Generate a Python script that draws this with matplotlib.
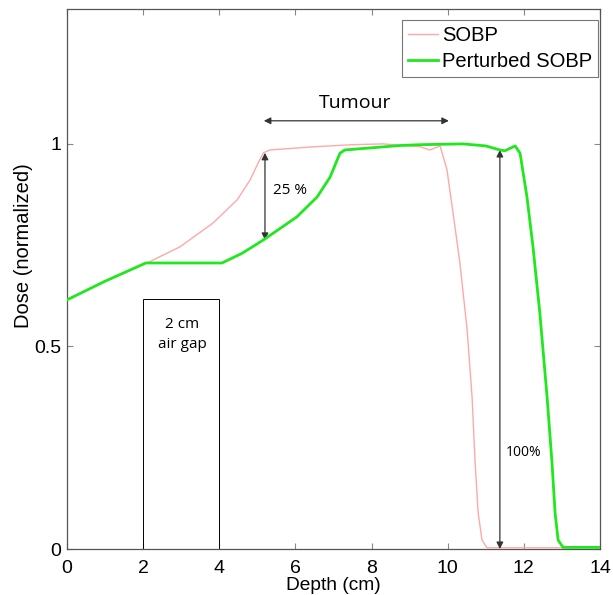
import matplotlib
matplotlib.use("Agg")
import matplotlib.pyplot as plt
from matplotlib.patches import Rectangle

plt.rcParams['font.family'] = ['Liberation Sans', 'DejaVu Sans']

# depth-dose curves
sobp_x = [0, 1.0, 2.1, 2.97, 3.84, 4.47, 4.81, 5.02, 5.16, 5.33, 6.5, 7.5,
          8.3, 9.27, 9.53, 9.8, 9.98, 10.14, 10.32, 10.51, 10.64, 10.72,
          10.8, 10.9, 11.03, 14]
sobp_y = [0.615, 0.661, 0.706, 0.746, 0.805, 0.862, 0.911, 0.953, 0.978,
          0.985, 0.993, 0.998, 1.0, 0.993, 0.985, 0.995, 0.936, 0.83, 0.706,
          0.541, 0.375, 0.212, 0.089, 0.022, 0.003, 0.003]

pert_x = [0, 1.0, 2.07, 4.07, 4.6, 5.16, 6.04, 6.57, 6.91, 7.17, 7.3, 8.75,
          9.27, 10.4, 11.0, 11.37, 11.5, 11.77, 11.9, 12.08, 12.24, 12.42,
          12.61, 12.74, 12.82, 12.9, 13.03, 14]
pert_y = [0.615, 0.661, 0.706, 0.706, 0.73, 0.763, 0.82, 0.869, 0.918, 0.977,
          0.985, 0.996, 0.998, 1.0, 0.995, 0.985, 0.983, 0.995, 0.977, 0.87,
          0.746, 0.582, 0.375, 0.212, 0.089, 0.022, 0.004, 0.004]

fig = plt.figure(figsize=(6.13, 5.95), dpi=100)
ax = fig.add_axes([0.1093, 0.0773, 0.8695, 0.9076])

ax.plot(sobp_x, sobp_y, color='#ffa8a8', lw=1.0, label='SOBP', zorder=3)
ax.plot(pert_x, pert_y, color='#1fe81f', lw=2.0, label='Perturbed SOBP', zorder=4)

# air gap box
ax.add_patch(Rectangle((2, 0), 2, 0.617, fill=False, ec='black', lw=0.7, zorder=2))
ax.text(3.02, 0.53, '2 cm\nair gap', ha='center', va='center', fontsize=11,
        family=['Open Sans', 'DejaVu Sans'], linespacing=1.5)

# annotations
arr = dict(arrowstyle='<|-|>', color='#333333', lw=0.9, mutation_scale=10,
           shrinkA=0, shrinkB=0)
ax.annotate('', xy=(5.17, 1.057), xytext=(10.03, 1.057), arrowprops=arr)
ax.text(7.57, 1.101, 'Tumour', ha='center', va='center', fontsize=14,
        family=['Open Sans', 'DejaVu Sans'])
ax.annotate('', xy=(5.2, 0.978), xytext=(5.2, 0.763), arrowprops=arr)
ax.text(5.4, 0.886, '25 %', ha='left', va='center', fontsize=11,
        family=['Open Sans', 'DejaVu Sans'])
ax.annotate('', xy=(11.37, 0.985), xytext=(11.37, 0.0), arrowprops=arr)
ax.text(11.53, 0.237, '100%', ha='left', va='center', fontsize=10,
        family=['Open Sans', 'DejaVu Sans'])

ax.set_xlim(0, 14)
ax.set_ylim(0, 1.333)
ax.set_xticks([0, 2, 4, 6, 8, 10, 12, 14])
ax.set_yticks([0, 0.5, 1])
ax.set_yticklabels(['0', '0.5', '1'])
ax.tick_params(direction='in', top=True, right=True, labelsize=14,
               length=4, color='#888888')
ax.tick_params(axis='x', pad=8)
ax.tick_params(axis='y', pad=4)
for s in ax.spines.values():
    s.set_color('#555555')
    s.set_linewidth(0.9)

ax.set_xlabel('Depth (cm)', fontsize=13.8, labelpad=0)
ax.set_ylabel('Dose (normalized)', fontsize=14.5)
ax.yaxis.set_label_coords(-0.064, 0.561)

leg = ax.legend(loc='upper right', fontsize=14.5, frameon=True, fancybox=False,
                handlelength=1.5, handletextpad=0.2, borderpad=0.3,
                labelspacing=0.35, borderaxespad=0,
                bbox_to_anchor=(0.997, 0.98))
leg.get_frame().set_edgecolor('#555555')
leg.get_frame().set_linewidth(0.8)

fig.savefig('out.png', dpi=100)
